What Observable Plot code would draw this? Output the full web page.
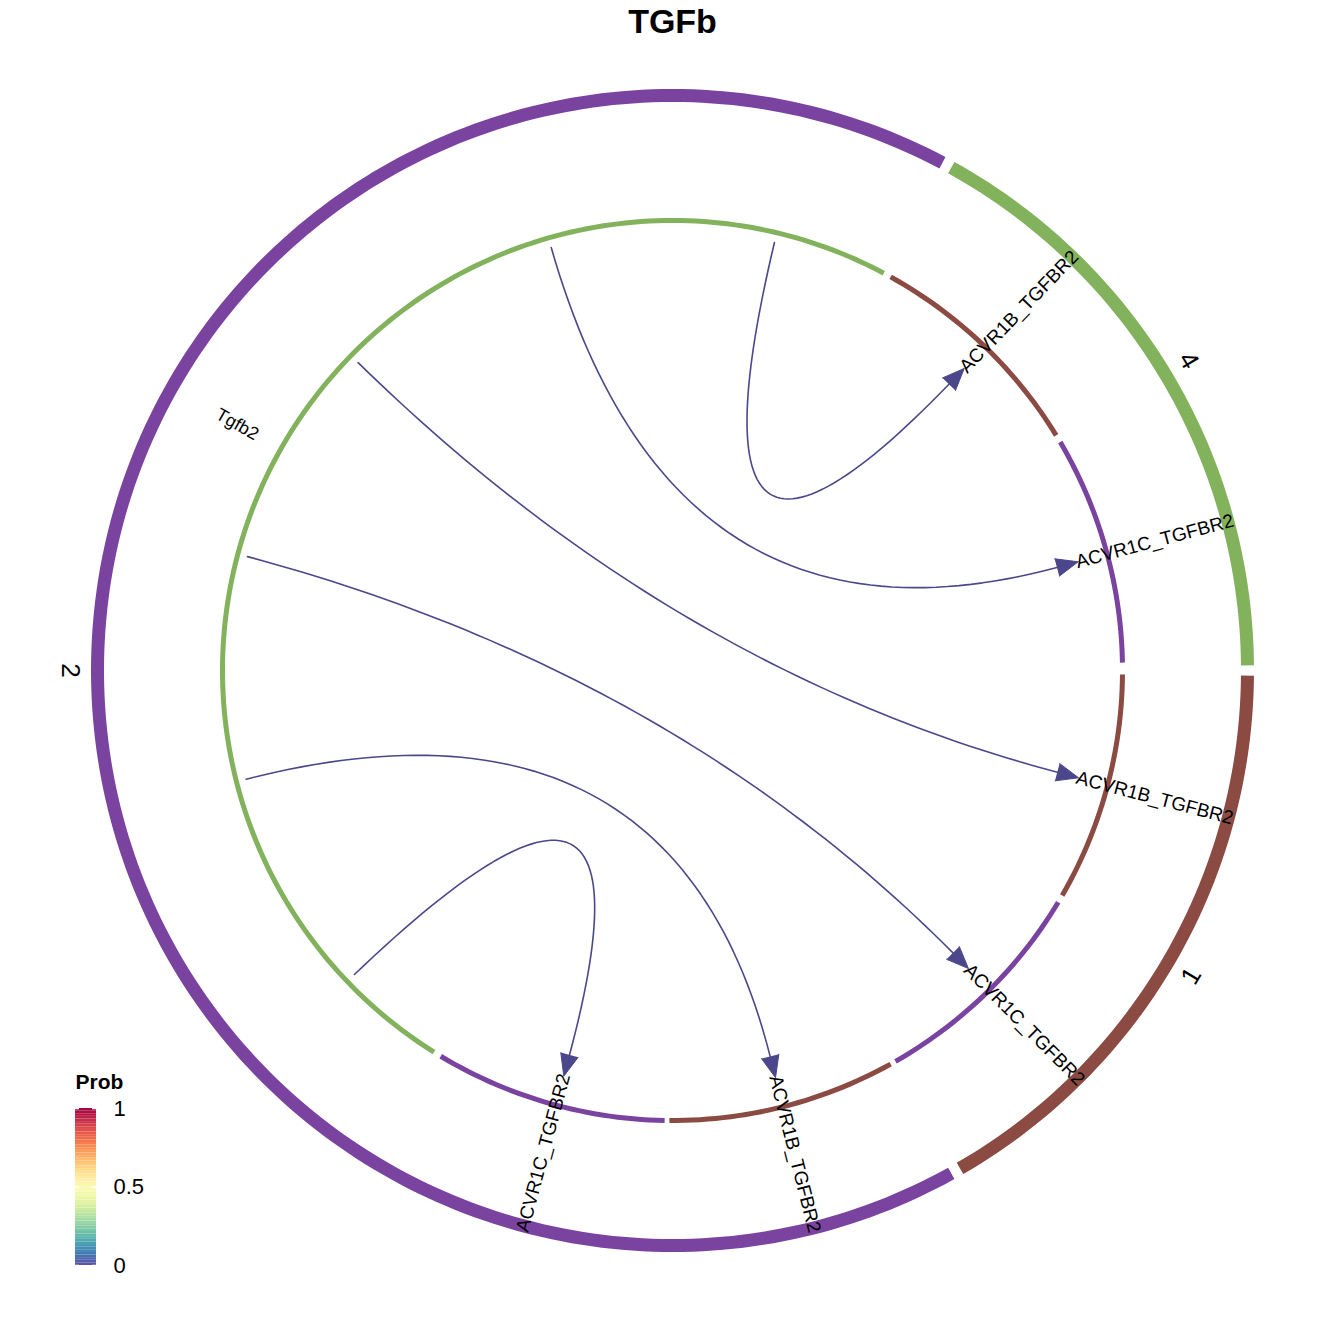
<!DOCTYPE html>
<html><head><meta charset="utf-8">
<script src="https://cdn.jsdelivr.net/npm/d3@7"></script>
<script src="https://cdn.jsdelivr.net/npm/@observablehq/plot@0.6"></script>
<style>body{margin:0;background:#fff}</style>
</head><body><div id="chart"></div>
<script>
// angles in degrees, clockwise from 3 o'clock
var groups = ["1", "2", "4"];
var groupColors = ["#8B4A42", "#7B43A0", "#83B25D"];
var outerStart = [0.5, 61, 299];
var outerEnd = [60, 298, 359.5];
var groupLabelAngle = [30.5, 180, 329];

var innerGroup = ["4", "1", "2", "1", "2", "1", "2"];
var innerStart = [122, 299, 329.5, 0.5, 31, 61, 91];
var innerEnd = [298, 328.5, 359, 30, 60.3, 90.4, 121];

var ligand = "Tgfb2";
var ligandAngle = 209.5;
var chordFrom = [283.4, 254, 224.4, 195, 165.7, 136.3];
var chordTo = [314, 345, 14.8, 45.2, 75.8, 105];
var receptors = ["ACVR1B_TGFBR2", "ACVR1C_TGFBR2", "ACVR1B_TGFBR2", "ACVR1C_TGFBR2", "ACVR1B_TGFBR2", "ACVR1C_TGFBR2"];
var prob = [0.01, 0.01, 0.01, 0.01, 0.01, 0.01];

var cx = 672, cy = 670;
var rad = a => a * Math.PI / 180;
var P = (a, r) => [cx + r * Math.cos(rad(a)), cy + r * Math.sin(rad(a))];
var colorOf = g => groupColors[groups.indexOf(g)];
var probColor = p => d3.interpolateSpectral(1 - p);

function arc(a0, a1, r, id, color) {
  var pts = [], n = Math.max(2, Math.ceil((a1 - a0) / 1));
  for (var i = 0; i <= n; i++) {
    var p = P(a0 + (a1 - a0) * i / n, r);
    pts.push({x: p[0], y: p[1], id: id, color: color});
  }
  return pts;
}

var outer = groups.flatMap((g, i) => arc(outerStart[i], outerEnd[i], 575, "o" + i, groupColors[i]));
var inner = innerGroup.flatMap((g, i) => arc(innerStart[i], innerEnd[i], 450, "i" + i, colorOf(g)));

var chords = [], heads = [];
chordFrom.forEach((a, i) => {
  var p0 = P(a, 440), p1 = P(chordTo[i], 398), c = [cx, cy];
  var col = d3.color(probColor(prob[i])).darker(0.5).formatHex();
  for (var k = 0; k <= 60; k++) {
    var t = k / 60, u = 1 - t;
    chords.push({x: u*u*p0[0] + 2*u*t*c[0] + t*t*p1[0], y: u*u*p0[1] + 2*u*t*c[1] + t*t*p1[1], id: i, color: col});
  }
  var dx = p1[0] - c[0], dy = p1[1] - c[1], L = Math.hypot(dx, dy);
  dx /= L; dy /= L;
  var tip = [p1[0] + dx * 22, p1[1] + dy * 22];
  [[p1[0] - dy * 9, p1[1] + dx * 9], tip, [p1[0] + dy * 9, p1[1] - dx * 9]].forEach(q =>
    heads.push({x: q[0], y: q[1], id: i, color: col}));
});

function radialLabel(a, r, text) {
  var p = P(a, r), left = Math.cos(rad(a)) < 0;
  return {x: p[0], y: p[1], text: text, rotate: left ? a - 180 : a, anchor: left ? "end" : "start"};
}
var labels = receptors.map((t, i) => radialLabel(chordTo[i], 418, t));
var labelsStart = labels.filter(d => d.anchor === "start");
var labelsEnd = labels.filter(d => d.anchor === "end");
var ligLabel = [(() => { var p = P(ligandAngle, 500); return {x: p[0], y: p[1], text: ligand, rotate: ligandAngle - 180}; })()];
var groupLab = groups.map((g, i) => {
  var a = groupLabelAngle[i], p = P(a, 602);
  return {x: p[0], y: p[1], text: g, rotate: (a > 0 && a <= 180) ? a - 90 : a + 90};
});

// legend
var legendTicks = [0, 0.5, 1];
var lgY = v => 1265 - v * 157;
var legendCells = d3.range(0, 60).map(k => ({y1: lgY(k / 60), y2: lgY((k + 1) / 60), fill: probColor((k + 0.5) / 60)}));

var chart = Plot.plot({
  width: 1344, height: 1344, margin: 0,
  x: {domain: [0, 1344], range: [0, 1344], axis: null},
  y: {domain: [0, 1344], range: [0, 1344], axis: null},
  marks: [
    Plot.line(outer, {x: "x", y: "y", z: "id", stroke: "color", strokeWidth: 13, strokeLinecap: "butt"}),
    Plot.line(inner, {x: "x", y: "y", z: "id", stroke: "color", strokeWidth: 5, strokeLinecap: "butt"}),
    Plot.line(chords, {x: "x", y: "y", z: "id", stroke: "color", strokeWidth: 1.6}),
    Plot.line(heads, {x: "x", y: "y", z: "id", fill: "color", stroke: "color", strokeWidth: 1}),
    Plot.text(labelsStart, {x: "x", y: "y", text: "text", rotate: "rotate", textAnchor: "start", fontSize: 19, fill: "#000", fontFamily: "Liberation Sans"}),
    Plot.text(labelsEnd, {x: "x", y: "y", text: "text", rotate: "rotate", textAnchor: "end", fontSize: 19, fill: "#000", fontFamily: "Liberation Sans"}),
    Plot.text(ligLabel, {x: "x", y: "y", text: "text", rotate: "rotate", fontSize: 18, fill: "#000", fontFamily: "Liberation Sans"}),
    Plot.text(groupLab, {x: "x", y: "y", text: "text", rotate: "rotate", fontSize: 26, fill: "#000", fontFamily: "Liberation Sans"}),
    Plot.text(["TGFb"], {x: 672, y: 22, text: d => d, fontSize: 34, fontWeight: "bold", fill: "#000", fontFamily: "Liberation Sans"}),
    Plot.rect(legendCells, {x1: 75, x2: 96, y1: "y1", y2: "y2", fill: "fill"}),
    Plot.ruleY(legendTicks, {y: lgY, x1: 75, x2: 79, stroke: "#fff", strokeWidth: 1.5}),
    Plot.ruleY(legendTicks, {y: lgY, x1: 92, x2: 96, stroke: "#fff", strokeWidth: 1.5}),
    Plot.text(legendTicks, {x: 113, y: lgY, text: d => String(d), textAnchor: "start", fontSize: 22, fill: "#000", fontFamily: "Liberation Sans"}),
    Plot.text(["Prob"], {x: 75, y: 1082, text: d => d, textAnchor: "start", fontSize: 21, fontWeight: "bold", fill: "#000", fontFamily: "Liberation Sans"})
  ]
});
document.getElementById("chart").append(chart);
</script>
</body></html>
